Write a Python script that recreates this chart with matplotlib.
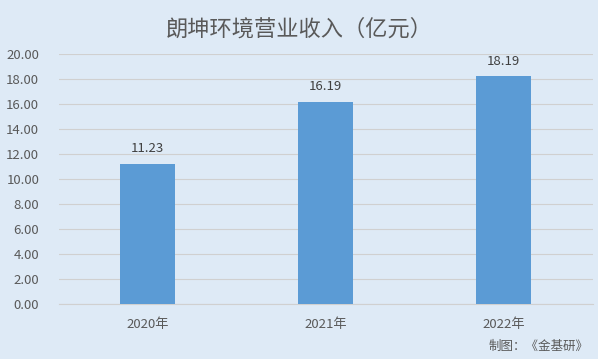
import matplotlib.pyplot as plt

plt.rcParams['font.family'] = ['Noto Sans CJK SC', 'DejaVu Sans']

years = ['2020年', '2021年', '2022年']
revenue = [11.23, 16.19, 18.19]
yticks = [0, 2, 4, 6, 8, 10, 12, 14, 16, 18, 20]

bg = '#DEEAF6'
fig = plt.figure(figsize=(5.98, 3.59), dpi=100, facecolor=bg)
ax = fig.add_axes([0.098, 0.153, 0.893, 0.697], facecolor=bg)

x = range(len(years))
bars = ax.bar(x, revenue, width=0.31, color='#5B9BD5', zorder=3)
for i, v in zip(x, revenue):
    ax.text(i, v + 0.7, f'{v:.2f}', ha='center', va='bottom', fontsize=9.5, color='#404040')

ax.set_xlim(-0.5, 2.5)
ax.set_ylim(0, 20)
ax.set_yticks(yticks)
ax.set_yticklabels([f'{t:.2f}' for t in yticks], fontsize=9.5, color='#595959')
ax.set_xticks(list(x))
ax.set_xticklabels(years, fontsize=9.5, color='#595959')
ax.grid(axis='y', color='#D0D0D0', linewidth=0.8, zorder=0)
ax.tick_params(length=0, pad=14)
ax.tick_params(axis='x', pad=10)
for s in ['top', 'right', 'left']:
    ax.spines[s].set_visible(False)
ax.spines['bottom'].set_color('#D0D0D0')

fig.text(0.5, 0.92, '朗坤环境营业收入（亿元）', ha='center', va='center', fontsize=16, color='#595959')
fig.text(0.985, 0.035, '制图：《金基研》', ha='right', va='center', fontsize=9, color='#595959')

fig.savefig('out.png', dpi=100, facecolor=bg)
